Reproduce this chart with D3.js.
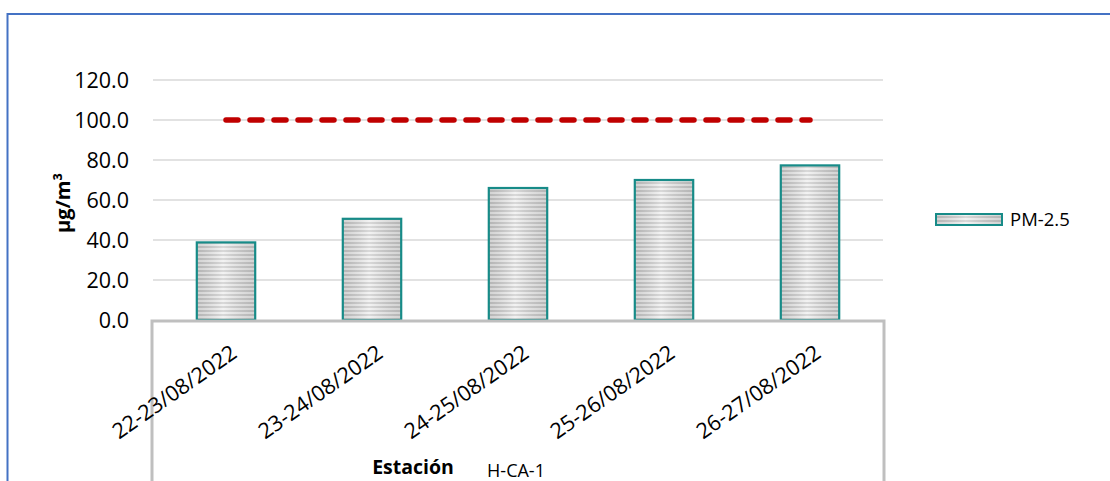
<!DOCTYPE html>
<html>
<head>
<meta charset="utf-8">
<script src="https://cdn.jsdelivr.net/npm/d3@7"></script>
<style>
  html, body { margin: 0; padding: 0; background: #fff; }
  svg { display: block; font-family: "Open Sans", "Noto Sans", sans-serif; }
</style>
</head>
<body>
<svg id="chart" width="1110" height="481"></svg>
<script>
// PM-2.5 daily concentrations at station H-CA-1
const categories = ["22-23/08/2022", "23-24/08/2022", "24-25/08/2022", "25-26/08/2022", "26-27/08/2022"];
const pm25 = [38.8, 50.6, 66.0, 70.0, 77.3];
const limitValue = [100, 100, 100, 100, 100];
const yTicks = [0, 20, 40, 60, 80, 100, 120];
const seriesName = "PM-2.5";
const yTitle = "µg/m³";
const xTitle = "Estación";
const stationName = "H-CA-1";

const svg = d3.select("#chart");
const plot = { left: 153, right: 883, top: 80, bottom: 320 };

const x = d3.scaleBand().domain(categories).range([plot.left, plot.right]).paddingInner(0.6).paddingOuter(0.3);
const y = d3.scaleLinear().domain([0, 120]).range([plot.bottom, plot.top]);

// fill patterns
const defs = svg.append("defs");
const pat = defs.append("pattern")
  .attr("id", "stripes").attr("patternUnits", "userSpaceOnUse")
  .attr("width", 8).attr("height", 4);
pat.append("rect").attr("width", 8).attr("height", 4).attr("fill", "#ececec");
pat.append("rect").attr("y", 2).attr("width", 8).attr("height", 2).attr("fill", "#c4c4c4");

const shade = defs.append("linearGradient").attr("id", "shade").attr("x1", 0).attr("x2", 1).attr("y1", 0).attr("y2", 0);
shade.append("stop").attr("offset", "0%").attr("stop-color", "#888").attr("stop-opacity", 0.25);
shade.append("stop").attr("offset", "45%").attr("stop-color", "#fff").attr("stop-opacity", 0.35);
shade.append("stop").attr("offset", "100%").attr("stop-color", "#888").attr("stop-opacity", 0.25);

// outer frame
svg.append("rect").attr("x", 7.5).attr("y", 14).attr("width", 1120).attr("height", 500)
  .attr("fill", "none").attr("stroke", "#4472c4").attr("stroke-width", 2);

// gridlines
svg.append("g").selectAll("line").data(yTicks.filter(d => d > 0)).join("line")
  .attr("x1", plot.left).attr("x2", plot.right)
  .attr("y1", d => y(d)).attr("y2", d => y(d))
  .attr("stroke", "#d9d9d9").attr("stroke-width", 1.5);

// y axis labels
const yAxis = d3.axisLeft(y).tickValues(yTicks).tickFormat(d3.format(".1f")).tickSize(0).tickPadding(0);
const gy = svg.append("g").attr("transform", "translate(129,0)").call(yAxis);
gy.select(".domain").remove();
gy.selectAll("text").attr("font-size", 21.5).attr("fill", "#000").attr("font-family", "Open Sans").attr("dy", "0.34em");

// y axis title
svg.append("text").attr("transform", "translate(70,203) rotate(-90)")
  .attr("text-anchor", "middle").attr("font-size", 20).attr("font-weight", "bold")
  .text(yTitle);

// bars
const bars = svg.append("g");
bars.selectAll("rect.bar").data(pm25).join("rect").attr("class", "bar")
  .attr("x", (d, i) => x(categories[i])).attr("width", x.bandwidth())
  .attr("y", d => y(d)).attr("height", d => y(0) - y(d))
  .attr("fill", "url(#stripes)");
bars.selectAll("rect.shade").data(pm25).join("rect").attr("class", "shade")
  .attr("x", (d, i) => x(categories[i])).attr("width", x.bandwidth())
  .attr("y", d => y(d)).attr("height", d => y(0) - y(d))
  .attr("fill", "url(#shade)")
  .attr("stroke", "#178b88").attr("stroke-width", 2.2);

// limit line
const line = d3.line().x((d, i) => x(categories[i]) + x.bandwidth() / 2).y(d => y(d));
svg.append("path").datum(limitValue).attr("d", line)
  .attr("fill", "none").attr("stroke", "#c00000").attr("stroke-width", 5.5)
  .attr("stroke-linecap", "round").attr("stroke-dasharray", "12,12");

// category axis box
svg.append("path")
  .attr("d", `M${plot.left - 1},520 V${plot.bottom + 1} H${plot.right + 1} V520`)
  .attr("fill", "none").attr("stroke", "#bfbfbf").attr("stroke-width", 3);

// category labels
svg.append("g").selectAll("text").data(categories).join("text")
  .attr("transform", d => `translate(${x(d) + x.bandwidth() / 2 + 8},${plot.bottom + 30}) rotate(-35)`)
  .attr("text-anchor", "end").attr("font-size", 21.5).attr("dy", "0.35em")
  .text(d => d);

// x titles
svg.append("text").attr("x", 413).attr("y", 474).attr("text-anchor", "middle")
  .attr("font-size", 19.5).attr("font-weight", "bold").text(xTitle);
svg.append("text").attr("x", 516).attr("y", 477).attr("text-anchor", "middle")
  .attr("font-size", 18).text(stationName);

// legend
const lg = svg.append("g").attr("transform", "translate(936,214)");
lg.append("rect").attr("width", 66).attr("height", 11).attr("fill", "url(#stripes)");
lg.append("rect").attr("width", 66).attr("height", 11).attr("fill", "url(#shade)")
  .attr("stroke", "#178b88").attr("stroke-width", 2);
lg.append("text").attr("x", 74).attr("y", 6).attr("dy", "0.35em").attr("font-size", 18.5).text(seriesName);
</script>
</body>
</html>
